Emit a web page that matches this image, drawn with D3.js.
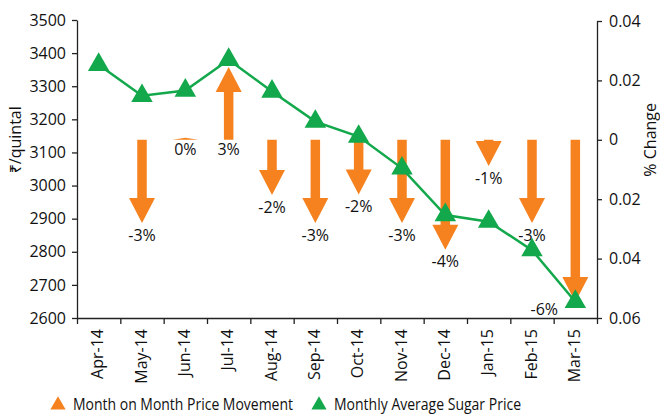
<!DOCTYPE html>
<html>
<head>
<meta charset="utf-8">
<script src="https://cdn.jsdelivr.net/npm/d3@7"></script>
<style>
body { margin: 0; background: #fff; }
text { font-family: "Open Sans", "Noto Sans", "DejaVu Sans", sans-serif; fill: #111; }
</style>
</head>
<body>
<script>
var months = ["Apr-14", "May-14", "Jun-14", "Jul-14", "Aug-14", "Sep-14", "Oct-14", "Nov-14", "Dec-14", "Jan-15", "Feb-15", "Mar-15"];
var price = [3365, 3271, 3287, 3380, 3284, 3193, 3148, 3052, 2911, 2891, 2805, 2649];
var change = [null, -0.028, 0.0007, 0.0245, -0.0186, -0.028, -0.0184, -0.028, -0.037, -0.0088, -0.028, -0.0546];
var changeLabels = ["", "-3%", "0%", "3%", "-2%", "-3%", "-2%", "-3%", "-4%", "-1%", "-3%", "-6%"];
var priceTicks = [2600, 2700, 2800, 2900, 3000, 3100, 3200, 3300, 3400, 3500];
var pctTicks = [-0.06, -0.04, -0.02, 0, 0.02, 0.04];
var legendNames = ["Month on Month Price Movement", "Monthly Average Sugar Price"];

var w = 660, h = 415;
var mLeft = 77, mRight = 597, mTop = 20, mBottom = 318;
var orange = "#f5821f", green = "#12a84b";

var svg = d3.select("body").append("svg")
  .attr("width", w)
  .attr("height", h);

var x = d3.scaleBand().domain(months).range([mLeft, mRight]);
var xi = d3.scaleLinear().domain([0, months.length]).range([mLeft, mRight]);
var yL = d3.scaleLinear().domain([2600, 3500]).range([mBottom, mTop]);
var yR = d3.scaleLinear().domain([-0.06, 0.04]).range([mBottom, mTop + 1]);

// arrows
function arrow(cx, v) {
  var y0 = yR(0), y1 = yR(v);
  var dir = y1 > y0 ? 1 : -1;
  var len = Math.abs(y1 - y0);
  var head = Math.min(25, len);
  var yb = y1 - dir * head;
  var sw = 4.75, hw = 13;
  return "M" + (cx - sw) + "," + y0 + "L" + (cx + sw) + "," + y0 +
    "L" + (cx + sw) + "," + yb + "L" + (cx + hw) + "," + yb +
    "L" + cx + "," + y1 + "L" + (cx - hw) + "," + yb +
    "L" + (cx - sw) + "," + yb + "Z";
}

var arrowData = months.map(function(m, i) { return {m: m, v: change[i], label: changeLabels[i]}; })
  .filter(function(d) { return d.v !== null; });

svg.selectAll("path.arrow")
  .data(arrowData)
  .enter().append("path")
  .attr("class", "arrow")
  .attr("d", function(d) { return arrow(x(d.m) + x.bandwidth() / 2, d.v); })
  .style("fill", orange);

svg.selectAll("text.pct")
  .data(arrowData)
  .enter().append("text")
  .attr("class", "pct")
  .attr("x", function(d) {
    var cx = x(d.m) + x.bandwidth() / 2;
    return yR(d.v) + 20 > mBottom ? cx - 31 : cx;
  })
  .attr("y", function(d) {
    var yy = Math.max(yR(d.v), yR(0));
    if (yR(d.v) + 20 > mBottom) return yR(d.v) + 7;
    return d.v < 0 ? yy + 12 : yy + 10;
  })
  .attr("dy", "0.35em")
  .attr("text-anchor", "middle")
  .style("font-size", "16px")
  .text(function(d) { return d.label; });

// price line
var line = d3.line()
  .x(function(d, i) { return x(months[i]) + x.bandwidth() / 2; })
  .y(function(d) { return yL(d); });

svg.append("path")
  .datum(price)
  .attr("d", line)
  .style("fill", "none")
  .style("stroke", green)
  .style("stroke-width", 2.5);

svg.selectAll("path.mark")
  .data(price)
  .enter().append("path")
  .attr("class", "mark")
  .attr("d", d3.symbol().type(d3.symbolTriangle).size(200))
  .attr("transform", function(d, i) {
    return "translate(" + (x(months[i]) + x.bandwidth() / 2) + "," + yL(d) + ")";
  })
  .style("fill", green);

// axes
var gL = svg.append("g")
  .attr("transform", "translate(" + mLeft + ",0)")
  .call(d3.axisLeft(yL).tickValues(priceTicks).tickSize(5).tickPadding(6).tickSizeOuter(0)
    .tickFormat(d3.format("d")));

var gR = svg.append("g")
  .attr("transform", "translate(" + mRight + ",0)")
  .call(d3.axisRight(yR).tickValues(pctTicks).tickSize(5).tickPadding(7).tickSizeOuter(0)
    .tickFormat(function(d) { return d === 0 ? "0" : Math.abs(d).toFixed(2); }));

var gB = svg.append("g")
  .attr("transform", "translate(0," + mBottom + ")")
  .call(d3.axisBottom(xi).tickValues(d3.range(months.length + 1)).tickSize(6).tickSizeOuter(0).tickFormat(""));

var gLab = svg.append("g")
  .attr("transform", "translate(0," + mBottom + ")")
  .call(d3.axisBottom(x).tickSize(0).tickSizeOuter(0));
gLab.select(".domain").remove();
gLab.selectAll("text")
  .attr("transform", "translate(-1,11) rotate(-90)")
  .attr("x", 0)
  .attr("y", 0)
  .attr("dy", "0.35em")
  .attr("text-anchor", "end");

[gL, gR, gB, gLab].forEach(function(g) {
  g.selectAll("text").style("font-size", "16px").style("fill", "#111").style("font-family", null);
  g.selectAll("path, line").style("stroke", "#222").style("stroke-width", 1.3);
});

// axis titles
svg.append("text")
  .attr("transform", "translate(15," + yR(0) + ") rotate(-90)")
  .attr("text-anchor", "middle")
  .attr("dy", "0.35em")
  .style("font-size", "16px")
  .text("₹/quintal");

svg.append("text")
  .attr("transform", "translate(650," + yR(0) + ") rotate(-90)")
  .attr("text-anchor", "middle")
  .attr("dy", "0.35em")
  .style("font-size", "16px")
  .text("% Change");

// legend
var legend = svg.selectAll("g.legend")
  .data(legendNames)
  .enter().append("g")
  .attr("class", "legend")
  .attr("transform", function(d, i) { return "translate(" + (i === 0 ? 58 : 319) + ",0)"; });

legend.append("path")
  .attr("d", d3.symbol().type(d3.symbolTriangle).size(100))
  .attr("transform", "translate(0,405)")
  .style("fill", function(d, i) { return i === 0 ? orange : green; });

legend.append("text")
  .attr("x", 15)
  .attr("y", 410)
  .attr("textLength", function(d, i) { return i === 0 ? 220 : 187; })
  .attr("lengthAdjust", "spacingAndGlyphs")
  .style("font-size", "16px")
  .text(function(d) { return d; });
</script>
</body>
</html>
